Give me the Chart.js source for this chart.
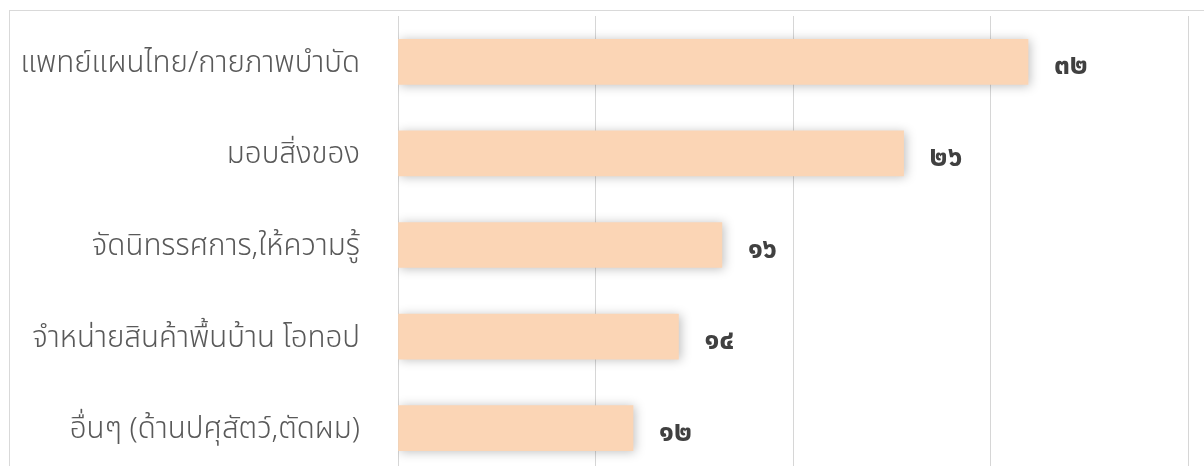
<!DOCTYPE html>
<html>
<head>
<meta charset="utf-8">
<script src="https://cdn.jsdelivr.net/npm/chart.js@4.4.1/dist/chart.umd.min.js"></script>
<style>
  html, body { margin: 0; padding: 0; background: #ffffff; overflow: hidden; width: 1204px; height: 466px; }
  #box { position: absolute; left: 9px; top: 10px; width: 1200px; height: 480px; border: 1px solid #d9d9d9; box-sizing: border-box; }
  #wrap { position: absolute; left: 0px; top: 0px; width: 1190px; height: 470px; }
</style>
</head>
<body>
<div id="box"><div id="wrap"><canvas id="c"></canvas></div></div>
<script>
const categories = [
  'แพทย์แผนไทย/กายภาพบำบัด',
  'มอบสิ่งของ',
  'จัดนิทรรศการ,ให้ความรู้',
  'จำหน่ายสินค้าพื้นบ้าน โอทอป',
  'อื่นๆ (ด้านปศุสัตว์,ตัดผม)'
];
const values = [31.9, 25.6, 16.4, 14.2, 11.9];
const valueLabels = ['๓๒', '๒๖', '๑๖', '๑๔', '๑๒'];
const axisMin = 0, axisMax = 40, axisStep = 10;

const THAI = "'Noto Sans Thai','Noto Sans Thai UI','Leelawadee UI','Tahoma','Noto Sans',sans-serif";

const shadowPlugin = {
  id: 'barShadow',
  beforeDatasetsDraw(chart) {
    const ctx = chart.ctx;
    ctx.save();
    ctx.shadowColor = 'rgba(0,0,0,0.25)';
    ctx.shadowBlur = 10;
    ctx.shadowOffsetX = 2;
    ctx.shadowOffsetY = 1;
  },
  afterDatasetsDraw(chart) {
    chart.ctx.restore();
  }
};

const labelPlugin = {
  id: 'valueLabels',
  afterDatasetsDraw(chart) {
    const ctx = chart.ctx;
    const meta = chart.getDatasetMeta(0);
    ctx.save();
    ctx.font = "bold 28px " + THAI;
    ctx.fillStyle = '#404040';
    ctx.textAlign = 'left';
    ctx.textBaseline = 'middle';
    meta.data.forEach((bar, i) => {
      ctx.fillText(valueLabels[i], bar.x + 26, bar.y + 7);
    });
    ctx.restore();
  }
};

new Chart(document.getElementById('c'), {
  type: 'bar',
  data: {
    labels: categories,
    datasets: [{
      data: values,
      backgroundColor: '#FBD5B5',
      borderWidth: 0,
      barThickness: 45
    }]
  },
  options: {
    indexAxis: 'y',
    responsive: true,
    maintainAspectRatio: false,
    animation: false,
    layout: { padding: { top: 5, right: 12, bottom: 7, left: 0 } },
    plugins: { legend: { display: false }, tooltip: { enabled: false } },
    scales: {
      x: {
        min: axisMin, max: axisMax,
        ticks: { display: false, stepSize: axisStep },
        grid: { color: '#d6d6d6', lineWidth: 1, drawTicks: false },
        border: { display: false },
        afterFit(s) { s.height = 0; s.paddingLeft = 0; s.paddingRight = 0; }
      },
      y: {
        ticks: { color: '#595959', font: { family: THAI, size: 29.5, weight: '300' }, padding: 38, labelOffset: 4 },
        grid: { display: false, drawTicks: false },
        border: { display: false },
        afterFit(s) { s.width = 388; s.paddingTop = 0; s.paddingBottom = 0; }
      }
    }
  },
  plugins: [shadowPlugin, labelPlugin]
});
</script>
</body>
</html>
